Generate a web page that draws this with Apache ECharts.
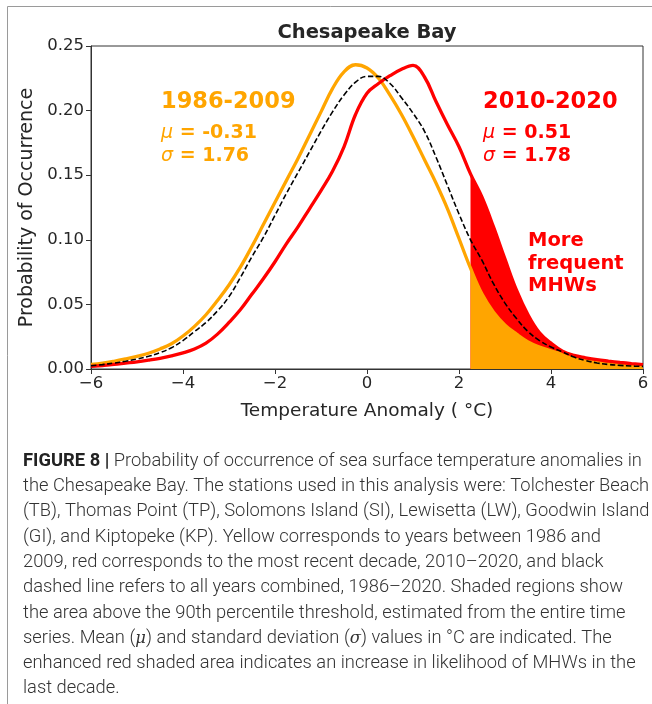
<!DOCTYPE html>
<html>
<head>
<meta charset="utf-8">
<script src="https://cdn.jsdelivr.net/npm/echarts@6/dist/echarts.min.js"></script>
<style>
html,body{margin:0;padding:0;background:#fff;}
#chart{width:652px;height:704px;}
</style>
</head>
<body>
<div id="chart"></div>
<script>
// Temperature anomaly grid (°C)
const xs = [-6,-5.75,-5.5,-5.25,-5,-4.75,-4.5,-4.25,-4,-3.75,-3.5,-3.25,-3,-2.75,-2.5,-2.25,-2,-1.75,-1.5,-1.25,-1,-0.75,-0.5,-0.25,0,0.25,0.5,0.75,1,1.25,1.5,1.75,2,2.25,2.5,2.75,3,3.25,3.5,3.75,4,4.25,4.5,4.75,5,5.25,5.5,5.75,6];
// 1986-2009 (orange)
const early = [0.0035,0.0045,0.006,0.0078,0.0098,0.0122,0.0155,0.0195,0.0255,0.033,0.042,0.053,0.065,0.079,0.095,0.112,0.129,0.146,0.163,0.181,0.199,0.217,0.230,0.2355,0.233,0.225,0.212,0.197,0.180,0.162,0.144,0.124,0.101,0.078,0.058,0.044,0.034,0.027,0.021,0.017,0.014,0.0115,0.0093,0.0075,0.006,0.0047,0.0037,0.0029,0.0022];
// 2010-2020 (red)
const recent = [0.002,0.0027,0.0035,0.0045,0.0055,0.0068,0.0083,0.0102,0.0125,0.0155,0.020,0.027,0.036,0.046,0.058,0.070,0.083,0.097,0.110,0.124,0.138,0.153,0.172,0.197,0.2135,0.221,0.227,0.232,0.235,0.226,0.207,0.189,0.172,0.151,0.133,0.110,0.085,0.061,0.042,0.028,0.020,0.0138,0.0105,0.0087,0.0072,0.0061,0.0051,0.0042,0.0034];
// 1986-2020 all years (black dashed)
const allYears = [0.0025,0.0034,0.0046,0.006,0.0077,0.0098,0.0126,0.0165,0.022,0.029,0.036,0.045,0.056,0.071,0.087,0.102,0.119,0.136,0.152,0.168,0.184,0.199,0.212,0.222,0.2265,0.2265,0.221,0.210,0.198,0.184,0.164,0.142,0.120,0.100,0.084,0.066,0.051,0.039,0.029,0.022,0.017,0.0132,0.0092,0.0066,0.0047,0.0035,0.0028,0.0023,0.002];
// 90th percentile threshold (°C)
const threshold = [2.25];
const xTicks = [-6,-4,-2,0,2,4,6];
const yTicks = [0,0.05,0.10,0.15,0.20,0.25];

const pairs = (vals) => xs.map((x,i)=>[x, vals[i]]);
const tail = (vals) => xs.map((x,i)=>[x, vals[i]]).filter(p => p[0] >= threshold[0]);

const chart = echarts.init(document.getElementById('chart'), null, {renderer:'canvas'});
const ORANGE = '#FFA500', RED = '#FF0000';
const tickFont = {fontFamily:'DejaVu Sans', fontSize:16.5, color:'#262626'};
const SM = 0.4;

const captionLines = [
  '{b|FIGURE 8 |} Probability of occurrence of sea surface temperature anomalies in',
  'the Chesapeake Bay. The stations used in this analysis were: Tolchester Beach',
  '(TB), Thomas Point (TP), Solomons Island (SI), Lewisetta (LW), Goodwin Island',
  '(GI), and Kiptopeke (KP). Yellow corresponds to years between 1986 and',
  '2009, red corresponds to the most recent decade, 2010–2020, and black',
  'dashed line refers to all years combined, 1986–2020. Shaded regions show',
  'the area above the 90th percentile threshold, estimated from the entire time',
  'series. Mean ({i|μ}) and standard deviation ({i|σ}) values in °C are indicated. The',
  'enhanced red shaded area indicates an increase in likelihood of MHWs in the',
  'last decade.'
];

const statRich = (c) => ({i:{fontStyle:'italic', fontWeight:'normal', fontFamily:'DejaVu Sans', fontSize:19, fill:c}});
const graphics = [
  {type:'rect', shape:{x:7.5, y:6.5, width:700, height:720}, style:{fill:'none', stroke:'#9a9a9a', lineWidth:1}, silent:true, z:0},
  {type:'text', x:367, y:33, style:{text:'Chesapeake Bay', fontFamily:'DejaVu Sans', fontWeight:'bold', fontSize:19.5, fill:'#262626', align:'center', verticalAlign:'middle'}},
  {type:'text', x:161, y:102, style:{text:'1986-2009', fontFamily:'DejaVu Sans', fontWeight:'bold', fontSize:22.5, fill:ORANGE, align:'left', verticalAlign:'middle'}},
  {type:'text', x:161, y:133, style:{text:'{i|μ} = -0.31', fontFamily:'DejaVu Sans', fontWeight:'bold', fontSize:19, fill:ORANGE, align:'left', verticalAlign:'middle', rich:statRich(ORANGE)}},
  {type:'text', x:161, y:156, style:{text:'{i|σ} = 1.76', fontFamily:'DejaVu Sans', fontWeight:'bold', fontSize:19, fill:ORANGE, align:'left', verticalAlign:'middle', rich:statRich(ORANGE)}},
  {type:'text', x:483, y:102, style:{text:'2010-2020', fontFamily:'DejaVu Sans', fontWeight:'bold', fontSize:22.5, fill:RED, align:'left', verticalAlign:'middle'}},
  {type:'text', x:483, y:133, style:{text:'{i|μ} = 0.51', fontFamily:'DejaVu Sans', fontWeight:'bold', fontSize:19, fill:RED, align:'left', verticalAlign:'middle', rich:statRich(RED)}},
  {type:'text', x:483, y:156, style:{text:'{i|σ} = 1.78', fontFamily:'DejaVu Sans', fontWeight:'bold', fontSize:19, fill:RED, align:'left', verticalAlign:'middle', rich:statRich(RED)}},
  {type:'text', x:528, y:241, style:{text:'More', fontFamily:'DejaVu Sans', fontWeight:'bold', fontSize:19.5, fill:RED, align:'left', verticalAlign:'middle'}},
  {type:'text', x:528, y:264, style:{text:'frequent', fontFamily:'DejaVu Sans', fontWeight:'bold', fontSize:19.5, fill:RED, align:'left', verticalAlign:'middle'}},
  {type:'text', x:528, y:286, style:{text:'MHWs', fontFamily:'DejaVu Sans', fontWeight:'bold', fontSize:19.5, fill:RED, align:'left', verticalAlign:'middle'}}
];
captionLines.forEach((t, i) => {
  graphics.push({type:'text', x:23, y:461 + i*25.3, scaleX:0.965, style:{
    text:t, fontFamily:'Roboto', fontWeight:300, fontSize:19, fill:'#333', align:'left', verticalAlign:'middle',
    rich:{b:{fontFamily:'Roboto', fontWeight:'bold', fontSize:19, fill:'#222'}, i:{fontFamily:'DejaVu Serif', fontStyle:'italic', fontSize:17, fill:'#333'}}
  }});
});

const option = {
  animation:false,
  backgroundColor:'#fff',
  grid:{left:91, top:46, width:552, height:323, show:true, borderColor:'#333', borderWidth:1, containLabel:false},
  xAxis:{type:'value', min:-6, max:6, interval:2,
    name:'Temperature Anomaly ( °C)', nameLocation:'middle', nameGap:33,
    nameTextStyle:{fontFamily:'DejaVu Sans', fontSize:18.5, color:'#262626'},
    axisLine:{show:true, onZero:false, lineStyle:{color:'#333', width:1}},
    axisTick:{show:true, inside:false, length:5, lineStyle:{color:'#333'}},
    axisLabel:Object.assign({margin:6, formatter:(v)=> xTicks.includes(v) ? String(v).replace('-', '\u2212') : ''}, tickFont),
    splitLine:{show:false}},
  yAxis:{type:'value', min:0, max:0.25, interval:0.05,
    name:'Probability of Occurrence', nameLocation:'middle', nameGap:50, nameRotate:90,
    nameTextStyle:{fontFamily:'DejaVu Sans', fontSize:19, color:'#262626'},
    axisLine:{show:true, onZero:false, lineStyle:{color:'#333', width:1}},
    axisTick:{show:true, inside:false, length:5, lineStyle:{color:'#333'}},
    axisLabel:Object.assign({margin:7, formatter:(v)=> yTicks.some(t=>Math.abs(t-v)<1e-9) ? v.toFixed(2) : ''}, tickFont),
    splitLine:{show:false}},
  series:[
    {name:'recentFill', type:'line', data:tail(recent), smooth:SM, symbol:'none', lineStyle:{width:0}, areaStyle:{color:RED, opacity:1}, z:1},
    {name:'earlyFill', type:'line', data:tail(early), smooth:SM, symbol:'none', lineStyle:{width:0}, areaStyle:{color:ORANGE, opacity:1}, z:2},
    {name:'1986-2009', type:'line', data:pairs(early), smooth:SM, symbol:'none', lineStyle:{color:ORANGE, width:3.3}, z:3},
    {name:'2010-2020', type:'line', data:pairs(recent), smooth:SM, symbol:'none', lineStyle:{color:RED, width:3.3}, z:4},
    {name:'1986-2020', type:'line', data:pairs(allYears), smooth:SM, symbol:'none', lineStyle:{color:'#000', width:1.6, type:[5.5,2.5]}, z:5}
  ],
  graphic:graphics
};
chart.setOption(option);
</script>
</body>
</html>
